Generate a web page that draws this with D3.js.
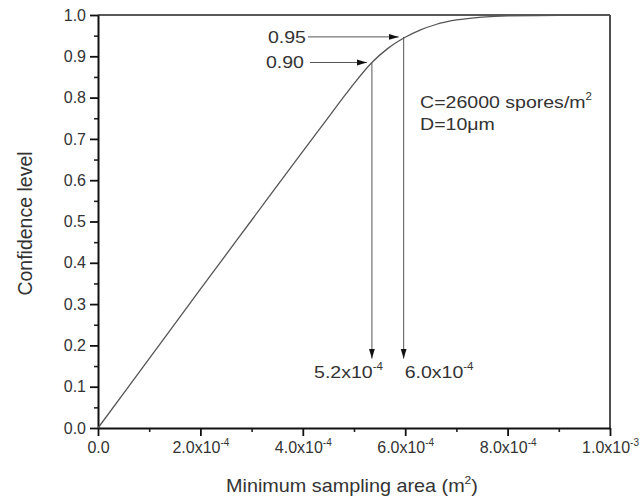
<!DOCTYPE html>
<html>
<head>
<meta charset="utf-8">
<script src="https://cdn.jsdelivr.net/npm/d3@7"></script>
<style>
  body { margin: 0; background: #fff; }
  text { font-family: "Liberation Sans", Arial, sans-serif; fill: #333; }
</style>
</head>
<body>
<svg></svg>
<script>
// curve (area in m^2, confidence level)
var areas  = [0, 1e-4, 2e-4, 3e-4, 4e-4, 4.5e-4, 4.85e-4, 5.0e-4, 5.35e-4, 5.65e-4, 6.0e-4, 6.3e-4, 6.6e-4, 7.0e-4, 7.5e-4, 8.0e-4, 9.0e-4, 1e-3];
var levels = [0, 0.168, 0.336, 0.503, 0.670, 0.752, 0.810, 0.834, 0.885, 0.918, 0.946, 0.964, 0.977, 0.988, 0.995, 0.998, 0.999, 1.0];

var xTickValues = [0, 2e-4, 4e-4, 6e-4, 8e-4, 1e-3];
var xTickBase = ["0.0", "2.0x10", "4.0x10", "6.0x10", "8.0x10", "1.0x10"];
var xTickExp = ["", "-4", "-4", "-4", "-4", "-3"];
var xMinorValues = [1e-4, 3e-4, 5e-4, 7e-4, 9e-4];
var yTickValues = [0, 0.1, 0.2, 0.3, 0.4, 0.5, 0.6, 0.7, 0.8, 0.9, 1.0];
var yMinorValues = [0.05, 0.15, 0.25, 0.35, 0.45, 0.55, 0.65, 0.75, 0.85, 0.95];

// marked points
var markLevels = [0.885, 0.947];
var markLevelLabels = ["0.90", "0.95"];
var markAreas = [5.35e-4, 5.97e-4];
var markAreaBase = ["5.2x10", "6.0x10"];
var markAreaExp = ["-4", "-4"];

var width = 642, height = 498;
var margin = {top: 15, right: 32, bottom: 70, left: 98};

var svg = d3.select("svg").attr("width", width).attr("height", height);

var x = d3.scaleLinear().domain([0, 1e-3]).range([margin.left, width - margin.right]);
var y = d3.scaleLinear().domain([0, 1]).range([height - margin.bottom, margin.top]);

var defs = svg.append("defs");
defs.append("marker")
    .attr("id", "head")
    .attr("markerUnits", "userSpaceOnUse")
    .attr("markerWidth", 11).attr("markerHeight", 7)
    .attr("refX", 10).attr("refY", 3.5)
    .attr("orient", "auto")
  .append("path")
    .attr("d", "M0,0.5 L10,3.5 L0,6.5 Z")
    .attr("fill", "#111");

// frame top / right
svg.append("line")
    .attr("x1", x(0)).attr("x2", x(1e-3))
    .attr("y1", y(1)).attr("y2", y(1))
    .attr("stroke", "#222").attr("stroke-width", 1.6);
svg.append("line")
    .attr("x1", x(1e-3)).attr("x2", x(1e-3))
    .attr("y1", y(0)).attr("y2", y(1))
    .attr("stroke", "#222").attr("stroke-width", 1.6);

// minor ticks
svg.append("g")
    .attr("transform", "translate(0," + y(0) + ")")
    .call(d3.axisBottom(x).tickValues(xMinorValues).tickSize(4).tickFormat(""))
    .call(g => g.select(".domain").remove())
    .selectAll("line").attr("stroke", "#222").attr("stroke-width", 1.6);
svg.append("g")
    .attr("transform", "translate(" + x(0) + ",0)")
    .call(d3.axisLeft(y).tickValues(yMinorValues).tickSize(4).tickFormat(""))
    .call(g => g.select(".domain").remove())
    .selectAll("line").attr("stroke", "#222").attr("stroke-width", 1.6);

// x axis
var xAxis = svg.append("g")
    .attr("transform", "translate(0," + y(0) + ")")
    .call(d3.axisBottom(x).tickValues(xTickValues).tickSize(8).tickSizeOuter(0).tickFormat(""));
xAxis.select(".domain").attr("stroke", "#111").attr("stroke-width", 2);
xAxis.selectAll(".tick line").attr("stroke", "#111").attr("stroke-width", 1.8);
xAxis.selectAll(".tick text").remove();
xAxis.selectAll(".tick").each(function(d, i) {
  var t = d3.select(this).append("text")
      .attr("y", 25)
      .attr("text-anchor", "middle")
      .style("font-size", "16px")
      .style("fill", "#333");
  t.append("tspan").text(xTickBase[i]);
  if (xTickExp[i]) {
    t.append("tspan").attr("dy", -7).style("font-size", "10px").text(xTickExp[i]);
  }
});

// y axis
var yAxis = svg.append("g")
    .attr("transform", "translate(" + x(0) + ",0)")
    .call(d3.axisLeft(y).tickValues(yTickValues).tickSize(8).tickSizeOuter(0).tickFormat(d3.format(".1f")));
yAxis.select(".domain").attr("stroke", "#111").attr("stroke-width", 2);
yAxis.selectAll(".tick line").attr("stroke", "#111").attr("stroke-width", 1.8);
yAxis.selectAll(".tick text")
    .attr("x", -12)
    .style("font-size", "16px")
    .style("font-family", "'Liberation Sans', Arial, sans-serif")
    .style("fill", "#333");

// curve
var line = d3.line()
    .x(function(d, i) { return x(areas[i]); })
    .y(function(d, i) { return y(levels[i]); })
    .curve(d3.curveMonotoneX);

svg.append("path")
    .datum(levels)
    .attr("d", line)
    .attr("fill", "none")
    .attr("stroke", "#555")
    .attr("stroke-width", 1.3);

// helper for slightly wide annotation text
function wideText(px, py, anchor, size, sx) {
  return svg.append("g")
      .attr("transform", "translate(" + px + "," + py + ") scale(" + sx + ",1)")
    .append("text")
      .attr("text-anchor", anchor)
      .style("font-size", size + "px");
}

// horizontal arrows with level labels
var arrowStart = 4.14e-4;
markLevels.forEach(function(lv, i) {
  svg.append("line")
      .attr("x1", x(arrowStart) + (i == 1 ? -2 : 0)).attr("x2", x(markAreas[i]) - 5)
      .attr("y1", y(lv)).attr("y2", y(lv))
      .attr("stroke", "#555").attr("stroke-width", 1)
      .attr("marker-end", "url(#head)");
  wideText(x(arrowStart) - (i == 1 ? 4 : 6), y(lv) + 6, "end", 17, 1.15)
      .text(markLevelLabels[i]);
});

// vertical arrows with area labels
var arrowEnd = 0.168;
markAreas.forEach(function(a, i) {
  svg.append("line")
      .attr("x1", x(a)).attr("x2", x(a))
      .attr("y1", y(markLevels[i])).attr("y2", y(arrowEnd))
      .attr("stroke", "#555").attr("stroke-width", 1)
      .attr("marker-end", "url(#head)");
  var t = wideText(i == 0 ? x(a) + 11 : x(a) + 1, y(arrowEnd) + 19, i == 0 ? "end" : "start", 17, 1.15);
  t.append("tspan").text(markAreaBase[i]);
  t.append("tspan").attr("dy", -8).style("font-size", "10px").text(markAreaExp[i]);
});

// parameter note
var note1 = wideText(x(6.29e-4), y(0.775), "start", 17, 1.15);
note1.append("tspan").text("C=26000 spores/m");
note1.append("tspan").attr("dy", -8).style("font-size", "10px").text("2");
wideText(x(6.29e-4), y(0.7215), "start", 17, 1.15).text("D=10\u03bcm");

// axis titles
var xt = wideText((x(0) + x(1e-3)) / 2 - 2, 492, "middle", 18, 1.1);
xt.append("tspan").text("Minimum sampling area (m");
xt.append("tspan").attr("dy", -8).style("font-size", "11px").text("2");
xt.append("tspan").attr("dy", 8).text(")");

svg.append("text")
    .attr("transform", "translate(32," + (y(0.5) + 2) + ") rotate(-90)")
    .attr("text-anchor", "middle")
    .style("font-size", "19.5px")
    .text("Confidence level");
</script>
</body>
</html>
